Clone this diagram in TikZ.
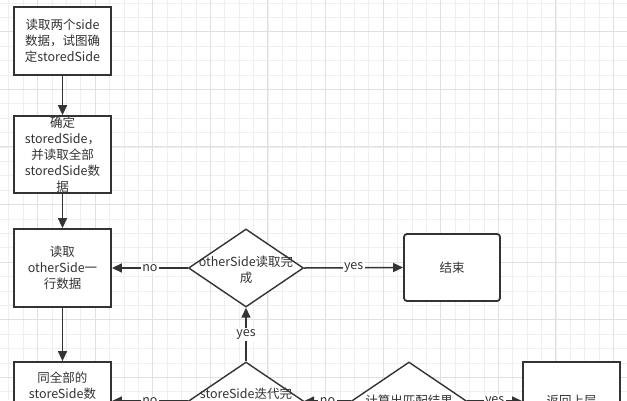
\documentclass[tikz,border=0pt]{standalone}
\usepackage{fontspec}
\setmainfont{Noto Sans CJK SC}
\usetikzlibrary{shapes.geometric,arrows.meta}
\definecolor{ink}{HTML}{333333}
\definecolor{gridminor}{HTML}{EFEFEF}
\definecolor{gridmajor}{HTML}{E0E0E0}
\newcommand{\fsz}{\fontsize{12.5}{16}\selectfont}
\begin{document}
\begin{tikzpicture}[x=1pt,y=-1pt,
  box/.style={draw=ink,line width=1.8pt,fill=white,inner sep=0pt,minimum width=97pt,text=ink,font=\fsz,align=center},
  dia/.style={diamond,draw=ink,line width=1.4pt,fill=white,inner sep=0pt,minimum width=115pt,minimum height=78pt},
  txt/.style={text=ink,font=\fsz,align=center,inner sep=0pt},
  arr/.style={draw=ink,line width=1.5pt,-{Triangle[length=10pt,width=9pt]}},
  lbl/.style={fill=white,text=ink,font=\fsz,inner sep=1.5pt}]
\useasboundingbox (0,0) rectangle (627,400);
\fill[white] (0,0) rectangle (627,400);
% grid
\foreach \i in {0,...,44} \draw[gridminor,line width=0.8pt] ({-5.7+14.4*\i},0) -- ({-5.7+14.4*\i},400);
\foreach \i in {0,...,28} \draw[gridminor,line width=0.8pt] (0,{2.9+14.4*\i}) -- (627,{2.9+14.4*\i});
\foreach \i in {0,...,11} \draw[gridmajor,line width=0.9pt] ({-20.1+57.6*\i},0) -- ({-20.1+57.6*\i},400);
\foreach \i in {0,...,8} \draw[gridmajor,line width=0.9pt] (0,{-25.9+57.6*\i}) -- (627,{-25.9+57.6*\i});
% nodes
\node[box,minimum height=68pt] (b1) at (62.5,41) {读取两个side\\数据，试图确\\定storedSide};
\node[box,minimum height=77pt] (b2) at (62.5,154.5) {确定\\storedSide，\\并读取全部\\storedSide数\\据};
\node[box,minimum height=78pt] (b3) at (62.5,268) {读取\\otherSide一\\行数据};
\node[box,minimum height=78pt] (b4) at (62.5,401) {};
\node[txt] (t4) at (62.5,385.5) {同全部的\\storeSide数};
\node[dia] (d1) at (246,268) {};
\node[txt] (t1) at (246,270) {otherSide读取完\\成};
\node[dia] (d2) at (246,401) {};
\node[txt] (t2) at (246,394) {storeSide迭代完};
\node[dia] (d3) at (409,401) {};
\node[txt] (t3) at (409,401) {计算出匹配结果};
\node[box,rounded corners=3pt,minimum width=96pt,minimum height=67pt] (end) at (452,267.5) {结束};
\node[box,minimum height=78pt] (b5) at (571.5,401) {};
\node[txt] (t5) at (571.5,401) {返回上层};
% connectors
\draw[arr] (b1) -- (b2);
\draw[arr] (b2) -- (b3);
\draw[arr] (b3) -- (b4);
\draw[arr] (d1.west) -- node[lbl]{no} (b3.east);
\draw[arr] (d1.east) -- node[lbl]{yes} (end.west);
\draw[arr] (d2.north) -- node[lbl]{yes} (d1.south);
\draw[arr] (d2.west) -- node[lbl]{no} (b4.east);
\draw[arr] (d3.west) -- node[lbl]{no} (d2.east);
\draw[arr] (d3.east) -- node[lbl]{yes} (b5.west);
\end{tikzpicture}
\end{document}
